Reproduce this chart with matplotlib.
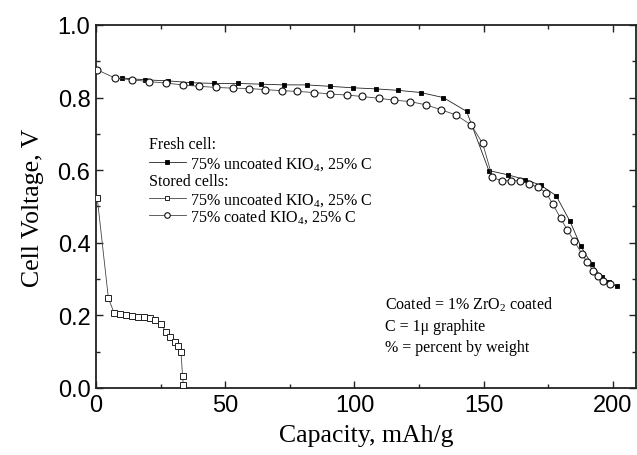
import matplotlib
matplotlib.use("Agg")
import matplotlib.pyplot as plt
from matplotlib.ticker import MultipleLocator, FormatStrFormatter

plt.rcParams['mathtext.fontset'] = 'custom'
plt.rcParams['mathtext.rm'] = 'Liberation Serif'
plt.rcParams['mathtext.it'] = 'Liberation Serif:italic'

# Fresh cell: 75% uncoated KIO4, 25% C (filled squares)
fresh_x = [9.9, 19.0, 28.0, 36.8, 45.8, 54.8, 63.7, 72.7, 81.5, 90.5, 99.3, 108.3,
           116.8, 125.6, 134.4, 143.4, 152.0, 159.5, 166.0, 172.0, 178.0, 183.4,
           187.6, 191.8, 195.6, 198.6, 201.4]
fresh_y = [0.854, 0.849, 0.846, 0.841, 0.839, 0.839, 0.837, 0.835, 0.835, 0.831, 0.827, 0.824,
           0.820, 0.814, 0.800, 0.762, 0.599, 0.587, 0.574, 0.559, 0.530, 0.459,
           0.390, 0.341, 0.305, 0.291, 0.280]

# Stored cells: 75% uncoated KIO4, 25% C (small open squares)
stored_unc_x = [0.5, 4.8, 7.0, 9.3, 11.6, 14.1, 16.4, 18.7, 20.9, 22.9, 25.3, 27.1,
                28.6, 30.6, 31.6, 32.9, 33.5, 33.8]
stored_unc_y = [0.522, 0.247, 0.207, 0.204, 0.200, 0.197, 0.196, 0.196, 0.194, 0.187, 0.175, 0.153,
                0.140, 0.128, 0.115, 0.098, 0.032, 0.008]

# Stored cells: 75% coated KIO4, 25% C (open circles)
stored_coat_x = [0.3, 7.3, 13.8, 20.5, 27.1, 33.5, 39.9, 46.4, 52.9, 59.3, 65.4, 71.8, 77.9,
                 84.3, 90.5, 97.0, 103.0, 109.5, 115.4, 121.5, 127.7, 133.3, 139.3, 145.1,
                 149.6, 153.4, 156.9, 160.4, 164.0, 167.6, 171.1, 174.3, 176.7, 179.8,
                 182.3, 184.9, 188.1, 190.0, 192.4, 194.3, 196.3, 198.8]
stored_coat_y = [0.877, 0.854, 0.849, 0.844, 0.840, 0.835, 0.831, 0.828, 0.826, 0.825, 0.822, 0.819, 0.817,
                 0.814, 0.810, 0.807, 0.803, 0.798, 0.793, 0.789, 0.780, 0.767, 0.752, 0.725,
                 0.674, 0.580, 0.571, 0.571, 0.571, 0.562, 0.553, 0.536, 0.507, 0.467,
                 0.436, 0.406, 0.369, 0.346, 0.323, 0.309, 0.296, 0.287]

fig = plt.figure(figsize=(6.37, 4.56), dpi=100)
ax = fig.add_axes([0.1507, 0.147, 0.848, 0.796])

lw = 0.6
l_fresh, = ax.plot(fresh_x, fresh_y, '-', color='#222222', lw=lw, marker='s', ms=3.4,
                   mfc='black', mec='black', mew=0.6,
                   label=r'75% uncoated KIO$_\mathrm{4}$, 25% C', zorder=3)
l_unc, = ax.plot(stored_unc_x, stored_unc_y, '-', color='#444444', lw=lw, marker='s', ms=4.0,
                 mfc='white', mec='#222222', mew=0.7,
                 label=r'75% uncoated KIO$_\mathrm{4}$, 25% C', zorder=3)
l_coat, = ax.plot(stored_coat_x, stored_coat_y, '-', color='#444444', lw=lw, marker='o', ms=5.0,
                  mfc='white', mec='#111111', mew=0.8,
                  label=r'75% coated KIO$_\mathrm{4}$, 25% C', zorder=4)

ax.set_xlim(0, 209)
ax.set_ylim(0, 1.0)
ax.xaxis.set_major_locator(MultipleLocator(50))
ax.xaxis.set_minor_locator(MultipleLocator(25))
ax.yaxis.set_major_locator(MultipleLocator(0.2))
ax.yaxis.set_minor_locator(MultipleLocator(0.1))
ax.yaxis.set_major_formatter(FormatStrFormatter('%.1f'))
ax.tick_params(which='both', direction='in', top=True, right=True, width=1.0, color='#222222')
ax.tick_params(which='major', length=5)
ax.tick_params(which='minor', length=3)
ax.tick_params(axis='both', which='major', labelsize=17, pad=4)
for lab in ax.get_xticklabels() + ax.get_yticklabels():
    lab.set_family('Liberation Sans')
for s in ax.spines.values():
    s.set_linewidth(1.3)
    s.set_color('#222222')

ax.set_xlabel('Capacity, mAh/g', family='Liberation Serif', fontsize=18.5, labelpad=6)
ax.set_ylabel('Cell Voltage, V', family='Liberation Serif', fontsize=18.5, labelpad=10)

legkw = dict(frameon=False, loc='upper left', prop={'family': 'Liberation Serif', 'size': 11.5},
             title_fontproperties={'family': 'Liberation Serif', 'size': 11.5},
             alignment='left', handlelength=2.3, handletextpad=0.3, borderpad=0,
             borderaxespad=0, labelspacing=0.0, markerscale=0.8)
leg1 = ax.legend(handles=[l_fresh], title='Fresh cell:', bbox_to_anchor=(0.098, 0.694), **legkw)
leg1._legend_box.sep = 1.5
ax.add_artist(leg1)
leg2 = ax.legend(handles=[l_unc, l_coat], title='Stored cells:', bbox_to_anchor=(0.098, 0.592), **legkw)
leg2._legend_box.sep = 0.5

notes = [r'Coated = 1% ZrO$_\mathrm{2}$ coated', 'C = 1\u03bc graphite', '% = percent by weight']
for i, t in enumerate(notes):
    ax.text(0.535, 0.231 - 0.059 * i, t, transform=ax.transAxes, ha='left', va='center',
            family='Liberation Serif', fontsize=11.5)

fig.savefig('out.png', dpi=100)
